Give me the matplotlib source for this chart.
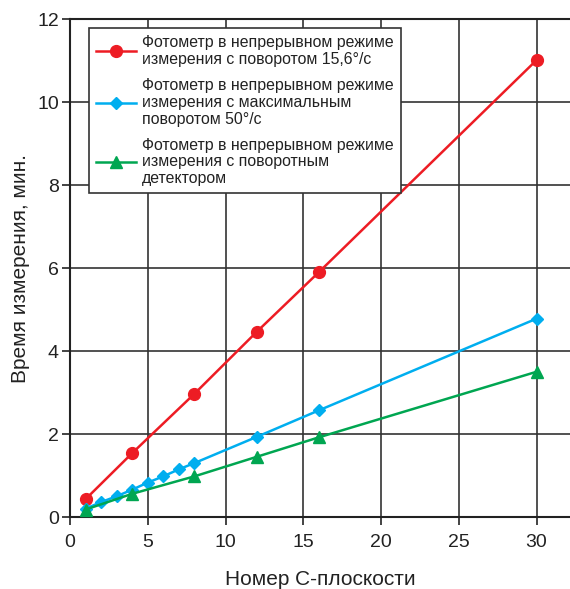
import matplotlib
matplotlib.use("Agg")
import matplotlib.pyplot as plt

plt.rcParams['font.family'] = ['Liberation Sans', 'DejaVu Sans']

# Data
x_red = [1, 4, 8, 12, 16, 30]
y_red = [0.43, 1.54, 2.97, 4.46, 5.9, 11.01]

x_blue = [1, 2, 3, 4, 5, 6, 7, 8, 12, 16, 30]
y_blue = [0.2, 0.36, 0.5, 0.66, 0.83, 0.98, 1.15, 1.3, 1.93, 2.57, 4.78]

x_green = [1, 4, 8, 12, 16, 30]
y_green = [0.18, 0.56, 0.98, 1.45, 1.92, 3.5]

labels = [
    "Фотометр в непрерывном режиме\nизмерения с поворотом 15,6°/c",
    "Фотометр в непрерывном режиме\nизмерения с максимальным\nповоротом 50°/c",
    "Фотометр в непрерывном режиме\nизмерения с поворотным\nдетектором",
]
xticks = [0, 5, 10, 15, 20, 25, 30]
yticks = [0, 2, 4, 6, 8, 10, 12]

fig = plt.figure(figsize=(5.7, 5.89), dpi=100)
ax = fig.add_axes([0.1228, 0.1222, 0.8772, 0.8455])

ax.plot(x_red, y_red, color='#ED1C24', lw=1.8, marker='o', ms=8.5, label=labels[0], zorder=3)
ax.plot(x_blue, y_blue, color='#00AEEF', lw=1.8, marker='D', ms=6, label=labels[1], zorder=3)
ax.plot(x_green, y_green, color='#00A651', lw=1.8, marker='^', ms=9, label=labels[2], zorder=3)

ax.set_xlim(0, 32.15)
ax.set_ylim(0, 12)
ax.set_xticks(xticks)
ax.set_yticks(yticks)
ax.grid(True, color='#333333', lw=1.2)
ax.set_axisbelow(True)
for s in ['left', 'bottom', 'top']:
    ax.spines[s].set_color('#222222')
    ax.spines[s].set_linewidth(1.5)
ax.spines['right'].set_visible(False)
ax.tick_params(direction='out', length=6, width=1.2, color='#222222',
               labelsize=14, colors='#222222')
ax.tick_params(axis='x', pad=6)
ax.tick_params(axis='y', pad=2)

ax.set_xlabel('Номер С-плоскости', fontsize=15, color='#222222', labelpad=14)
ax.set_ylabel('Время измерения, мин.', fontsize=15, color='#222222', labelpad=5)

leg = ax.legend(loc='upper left', bbox_to_anchor=(0.038, 0.982), fontsize=11.4,
                frameon=True, fancybox=False, edgecolor='#333333', framealpha=1,
                handlelength=2.5, handletextpad=0.4, labelspacing=0.7,
                borderpad=0.45, borderaxespad=0)
leg.get_frame().set_linewidth(1.2)
for t in leg.get_texts():
    t.set_color('#222222')
    t.set_linespacing(1.15)

fig.savefig('out.png', dpi=100)
